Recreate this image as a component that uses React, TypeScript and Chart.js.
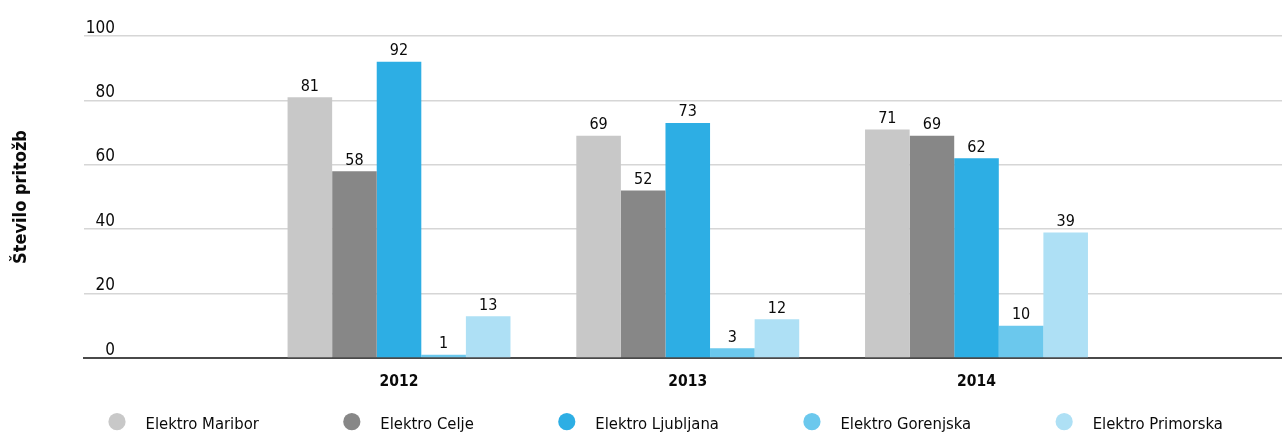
import React, { useEffect, useRef } from 'react';
import { Chart, registerables } from 'chart.js';

Chart.register(...registerables);

// ---- data ----
const years = ['2012', '2013', '2014'];
const seriesNames = ['Elektro Maribor', 'Elektro Celje', 'Elektro Ljubljana', 'Elektro Gorenjska', 'Elektro Primorska'];
const maribor = [81, 69, 71];
const celje = [58, 52, 69];
const ljubljana = [92, 73, 62];
const gorenjska = [1, 3, 10];
const primorska = [13, 12, 39];
const seriesColors = ['#c8c8c8', '#878787', '#2daee4', '#6bc8ed', '#aee0f5'];
const yTickValues = [0, 20, 40, 60, 80, 100];
const yTitle = 'Število pritožb';

const FONT = "'DejaVu Sans Condensed', 'Liberation Sans Narrow', sans-serif";
const TEXT = '#0a0a0a';

const valueLabels = {
  id: 'valueLabels',
  afterDatasetsDraw(chart: any) {
    const ctx = chart.ctx;
    ctx.save();
    ctx.font = `16px ${FONT}`;
    ctx.fillStyle = TEXT;
    ctx.textAlign = 'center';
    ctx.textBaseline = 'alphabetic';
    chart.data.datasets.forEach((ds: any, di: number) => {
      const meta = chart.getDatasetMeta(di);
      meta.data.forEach((bar: any, i: number) => {
        ctx.fillText(String(ds.data[i].y), bar.x, bar.y - 6.5);
      });
    });
    ctx.restore();
  },
};

// y tick labels: right-aligned, sitting just above each gridline
const yLabels = {
  id: 'yLabels',
  afterDraw(chart: any) {
    const ctx = chart.ctx;
    const scale = chart.scales.y;
    ctx.save();
    ctx.font = `17px ${FONT}`;
    ctx.fillStyle = TEXT;
    ctx.textAlign = 'right';
    ctx.textBaseline = 'alphabetic';
    scale.ticks.forEach((t: any) => {
      ctx.fillText(String(t.value), scale.right + 31, scale.getPixelForValue(t.value) - 3.4);
    });
    ctx.restore();
  },
};

const customLegend = {
  id: 'customLegend',
  afterDraw(chart: any) {
    const ctx = chart.ctx;
    ctx.save();
    ctx.font = `16.5px ${FONT}`;
    ctx.textAlign = 'left';
    ctx.textBaseline = 'alphabetic';
    let cx = 117;
    const cy = 421.7;
    chart.data.datasets.forEach((ds: any) => {
      ctx.fillStyle = ds.backgroundColor;
      ctx.beginPath();
      ctx.arc(cx, cy, 8.6, 0, Math.PI * 2);
      ctx.fill();
      ctx.fillStyle = TEXT;
      const tx = cx + 28.5;
      ctx.fillText(ds.label, tx, 428.5);
      const w = ctx.measureText(ds.label).width;
      cx = tx + w + 93;
    });
    ctx.restore();
  },
};

export default function App() {
  const ref = useRef<HTMLCanvasElement | null>(null);

  useEffect(() => {
    document.body.style.margin = '0';
    const series = [maribor, celje, ljubljana, gorenjska, primorska];
    const chart = new Chart(ref.current as HTMLCanvasElement, {
      type: 'bar',
      data: {
        datasets: series.map((vals, k) => ({
          label: seriesNames[k],
          data: vals.map((v, i) => ({ x: i, y: v })),
          backgroundColor: seriesColors[k],
          borderWidth: 0,
          barPercentage: 1,
          categoryPercentage: 0.772,
        })),
      },
      options: {
        responsive: false,
        animation: false,
        devicePixelRatio: 1,
        layout: { padding: { top: 36, right: 0, left: 0, bottom: 0 } },
        plugins: {
          legend: { display: false },
          tooltip: { enabled: false },
        },
        scales: {
          x: {
            type: 'linear',
            min: -1.091,
            max: 3.058,
            offset: false,
            grid: { display: false, drawTicks: false, offset: false },
            border: { display: true, color: '#4a4a4a', width: 2 },
            afterBuildTicks: (scale: any) => {
              scale.ticks = years.map((_, i) => ({ value: i }));
            },
            afterFit: (scale: any) => {
              scale.height = 74;
            },
            ticks: {
              autoSkip: false,
              maxRotation: 0,
              padding: 14.5,
              color: TEXT,
              font: { family: FONT, size: 15.5, weight: 'bold' },
              callback: (v: any) => years[Math.round(Number(v))] ?? '',
            },
          },
          y: {
            min: 0,
            max: 100,
            afterBuildTicks: (scale: any) => {
              scale.ticks = yTickValues.map((v) => ({ value: v }));
            },
            afterFit: (scale: any) => {
              scale.width = 84;
            },
            grid: {
              drawTicks: false,
              lineWidth: 1.5,
              color: (c: any) => (c.tick && c.tick.value === 0 ? 'rgba(0,0,0,0)' : '#d6d6d6'),
            },
            border: { display: false },
            ticks: { display: false },
            title: {
              display: true,
              text: yTitle,
              color: TEXT,
              font: { family: FONT, size: 18, weight: 'bold' },
              padding: { top: 11, bottom: 0 },
            },
          },
        },
      } as any,
      plugins: [valueLabels, yLabels, customLegend],
    });
    return () => chart.destroy();
  }, []);

  return <canvas ref={ref} width={1282} height={432} style={{ display: 'block' }} />;
}
